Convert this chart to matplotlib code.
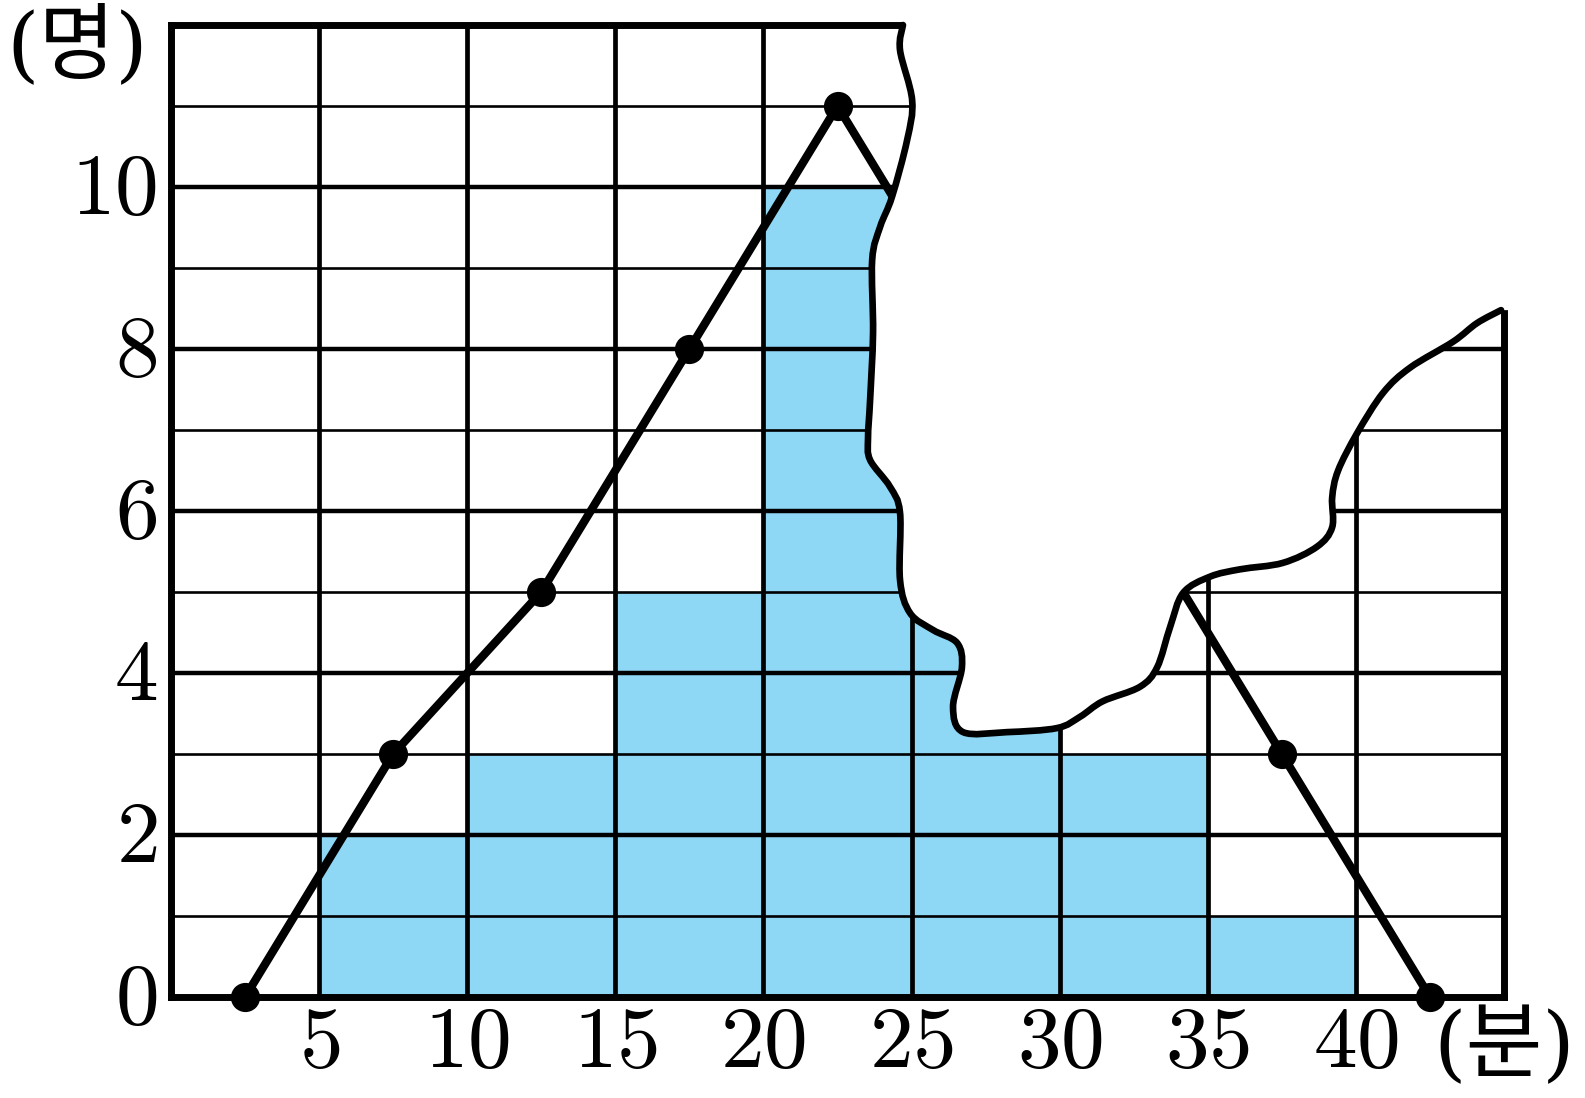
import matplotlib
matplotlib.use("Agg")
import matplotlib.pyplot as plt
import matplotlib.transforms as mtrans
import numpy as np
from matplotlib.path import Path
from matplotlib.patches import PathPatch

plt.rcParams['mathtext.fontset'] = 'cm'

# histogram (class start, width 5)
bin_left = [5, 10, 15, 20, 25, 30, 35]
bin_count = [2, 3, 5, 10, 7, 3, 1]
# frequency polygon
poly_x = [2.5, 7.5, 12.5, 17.5, 22.5, 27.5, 32.5, 37.5, 42.5]
poly_y = [0, 3, 5, 8, 11, 8, 6, 3, 0]
x_ticks = [5, 10, 15, 20, 25, 30, 35, 40]
y_ticks = [0, 2, 4, 6, 8, 10]

# torn-paper edge outline
tear_x = [24.71, 24.61, 25.02, 24.85, 24.34, 23.94, 23.67, 23.70, 23.60, 23.53, 23.60, 24.27,
          24.61, 24.61, 24.95, 25.73, 26.54, 26.70, 26.40, 26.74, 28.22, 29.91, 30.69, 31.45,
          32.71, 33.29, 33.73, 34.17, 35.08, 36.09, 37.54, 38.69, 39.20, 39.20, 39.40, 40.04,
          40.92, 41.83, 43.28, 44.09, 44.90]
tear_y = [12.0, 11.69, 11.07, 10.58, 9.88, 9.51, 9.10, 8.20, 7.37, 6.90, 6.63, 6.30,
          5.98, 5.15, 4.74, 4.53, 4.37, 4.07, 3.58, 3.27, 3.27, 3.32, 3.46, 3.65,
          3.83, 4.07, 4.57, 4.99, 5.19, 5.28, 5.36, 5.56, 5.80, 6.17, 6.50, 6.96,
          7.46, 7.77, 8.09, 8.32, 8.48]

fig = plt.figure(figsize=(15.85, 10.98), dpi=100)
ax = fig.add_axes([0.1079, 0.092, 0.841, 0.8852])
ax.set_xlim(0, 45)
ax.set_ylim(0, 12)
for s in ax.spines.values():
    s.set_visible(False)

ax.bar(bin_left, bin_count, width=5, align='edge', color='#8ED8F6', edgecolor='none', zorder=1)

for v in range(1, 12):
    ax.axhline(v, color='black', lw=3.2 if v % 2 == 0 else 1.9, zorder=2)
for v in range(5, 45, 5):
    ax.axvline(v, color='black', lw=3.4, zorder=2)

ax.plot(poly_x, poly_y, color='black', lw=6, zorder=3, solid_capstyle='round')
ax.plot(poly_x, poly_y, 'o', color='black', ms=20, zorder=3, clip_on=False)

# frame
fkw = dict(color='black', lw=5, zorder=3.5, clip_on=False, solid_capstyle='projecting')
ax.plot([0, 0], [0, 12], **fkw)
ax.plot([0, 45], [0, 0], **fkw)
ax.plot([0, 45], [12, 12], **fkw)
ax.plot([45, 45], [0, 12], **fkw)

# smooth tear path via Catmull-Rom -> Bezier
P = np.column_stack([tear_x, tear_y])
Pe = np.vstack([P[0], P, P[-1]])
verts = [tuple(P[0])]
codes = [Path.MOVETO]
for i in range(1, len(Pe) - 2):
    p0, p1, p2, p3 = Pe[i - 1], Pe[i], Pe[i + 1], Pe[i + 2]
    c1 = p1 + (p2 - p0) / 6
    c2 = p2 - (p3 - p1) / 6
    verts += [tuple(c1), tuple(c2), tuple(p2)]
    codes += [Path.CURVE4] * 3
fill_verts = verts + [(45.6, 8.48), (45.6, 12.6), (24.71, 12.6), (24.71, 12.0)]
fill_codes = codes + [Path.LINETO, Path.LINETO, Path.LINETO, Path.CLOSEPOLY]
ax.add_patch(PathPatch(Path(fill_verts, fill_codes), facecolor='white', edgecolor='none',
                       zorder=4, clip_on=False))
ax.add_patch(PathPatch(Path(verts, codes), facecolor='none', edgecolor='black', lw=4.8,
                       zorder=5, clip_on=False, capstyle='round', joinstyle='round'))

ax.set_xticks(x_ticks)
ax.set_xticklabels([f'${v}$' for v in x_ticks])
ax.set_yticks(y_ticks)
ax.set_yticklabels([f'${v}$' for v in y_ticks])
ax.tick_params(length=0, labelsize=63, colors='black')
ax.tick_params(axis='x', pad=3)
ax.tick_params(axis='y', pad=10)
shift_up = mtrans.ScaledTranslation(0, 0.06, fig.dpi_scale_trans)
for lab in ax.get_yticklabels():
    lab.set_transform(lab.get_transform() + shift_up)

kfam = ['DejaVu Serif', 'Noto Sans CJK KR']
fig.text(0.049, 0.957, '(명)', family=kfam, fontsize=60, ha='center', va='center')
fig.text(0.949, 0.045, '(분)', family=kfam, fontsize=60, ha='center', va='center')

fig.savefig('out.png', dpi=100)
